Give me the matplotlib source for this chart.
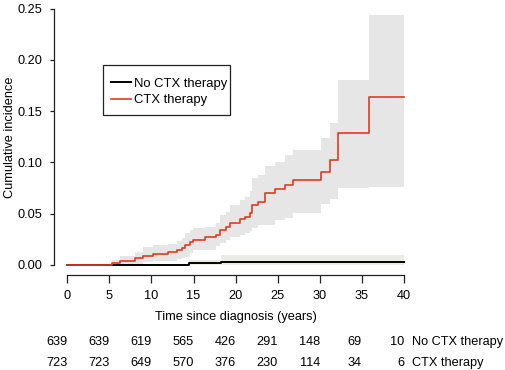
import matplotlib

matplotlib.use("Agg")
import matplotlib.pyplot as plt
from matplotlib import transforms
from matplotlib.patches import Rectangle

plt.rcParams["font.family"] = ["Liberation Sans", "DejaVu Sans"]
plt.rcParams["font.size"] = 9.2

# cumulative incidence, CTX therapy (step-post)
ctx_time = [0, 5.3, 6.3, 8.0, 9.0, 10.2, 12.0, 13.0, 13.6, 14.0, 14.6, 14.9, 16.4, 17.7, 18.1,
            18.9, 19.3, 20.5, 21.1, 21.7, 22.0, 22.6, 23.5, 24.7, 25.9, 26.8, 30.1, 31.2, 32.2,
            35.8, 40]
ctx_inc = [0, 0.0017, 0.0039, 0.0065, 0.009, 0.0104, 0.0123, 0.0146, 0.0169, 0.0195, 0.0227,
           0.0244, 0.027, 0.029, 0.034, 0.0367, 0.041, 0.0445, 0.047, 0.051, 0.0585, 0.0617,
           0.0705, 0.0738, 0.078, 0.083, 0.091, 0.102, 0.129, 0.164, 0.164]
ctx_upper = [0, 0.0045, 0.009, 0.013, 0.0178, 0.019, 0.020, 0.023, 0.026, 0.031, 0.034, 0.036,
             0.037, 0.041, 0.049, 0.052, 0.058, 0.063, 0.066, 0.072, 0.0845, 0.088, 0.096,
             0.100, 0.107, 0.112, 0.124, 0.138, 0.180, 0.2436, 0.2436]
ctx_lower = [0, 0, 0.0005, 0.001, 0.0026, 0.0039, 0.0039, 0.0058, 0.007, 0.008, 0.0114, 0.0146,
             0.015, 0.018, 0.021, 0.024, 0.0276, 0.029, 0.031, 0.033, 0.036, 0.039, 0.039,
             0.044, 0.046, 0.051, 0.059, 0.064, 0.075, 0.076, 0.076]

# no CTX therapy
noctx_time = [0, 14.4, 18.3, 40]
noctx_inc = [0, 0.002, 0.0032, 0.0032]
noctx_upper = [0, 0.005, 0.0097, 0.0097]
noctx_lower = [0, 0, 0, 0]

risk_times = [0, 5, 10, 15, 20, 25, 30, 35, 40]
risk_noctx = [639, 639, 619, 565, 426, 291, 148, 69, 10]
risk_ctx = [723, 723, 649, 570, 376, 230, 114, 34, 6]

W, H = 505, 370
fig = plt.figure(figsize=(W / 100, H / 100), dpi=100)
left, right, top, bottom = 53.8, 417.5, -1.0, 274.5
ax = fig.add_axes([left / W, 1 - bottom / H, (right - left) / W, (bottom - top) / H])

ax.fill_between(noctx_time, noctx_lower, noctx_upper, step="post", color="#ebebe6", lw=0)
ax.fill_between(ctx_time, ctx_lower, ctx_upper, step="post", color="#e6e6e6", lw=0)
ax.step(noctx_time, noctx_inc, where="post", color="black", lw=1.4, label="No CTX therapy")
ax.step(ctx_time, ctx_inc, where="post", color="#e23a22", lw=1.2, label="CTX therapy")

ax.set_xlim(-1.6, 41.6)
ax.set_ylim(-0.0093, 0.2593)
ax.set_xticks(risk_times)
ax.set_yticks([0, 0.05, 0.10, 0.15, 0.20, 0.25])
ax.set_yticklabels(["0.00", "0.05", "0.10", "0.15", "0.20", "0.25"])
for s in ["top", "right"]:
    ax.spines[s].set_visible(False)
ax.spines["bottom"].set_bounds(0, 40)
ax.spines["left"].set_bounds(0, 0.25)
for s in ["bottom", "left"]:
    ax.spines[s].set_linewidth(0.9)
    ax.spines[s].set_color("#222222")
ax.tick_params(axis="x", length=6, width=0.9, pad=5, colors="#222222")
ax.tick_params(axis="y", length=3, width=0.9, pad=5, colors="#222222")
ax.tick_params(labelcolor="black")

fig.text(10 / W, 1 - 137 / H, "Cumulative incidence", rotation=90, ha="center", va="center")
fig.text(0.5 * (67.3 + 404) / W, 1 - 317 / H, "Time since diagnosis (years)", ha="center", va="center")

# legend without its own frame; box drawn separately to match the tight R-style layout
ax.legend(loc="upper left", bbox_to_anchor=(111 / W, 1 - 77.5 / H),
          bbox_transform=fig.transFigure, frameon=False, fontsize=9.4,
          borderaxespad=0, borderpad=0, handlelength=1.55, handletextpad=0.2,
          labelspacing=0.33)
fig.add_artist(Rectangle((102.7 / W, 1 - 115 / H), (230 - 102.7) / W, 50 / H,
                         transform=fig.transFigure, fill=False, edgecolor="#222222", lw=0.9))

trans = transforms.blended_transform_factory(ax.transData, fig.transFigure)
for t, a, b in zip(risk_times, risk_noctx, risk_ctx):
    ax.text(t, 1 - 342 / H, str(a), ha="right", va="center", transform=trans, clip_on=False)
    ax.text(t, 1 - 363 / H, str(b), ha="right", va="center", transform=trans, clip_on=False)
ax.text(40.9, 1 - 342 / H, "No CTX therapy", ha="left", va="center", transform=trans, clip_on=False)
ax.text(40.9, 1 - 363 / H, "CTX therapy", ha="left", va="center", transform=trans, clip_on=False)

fig.savefig("out.png", dpi=100)
